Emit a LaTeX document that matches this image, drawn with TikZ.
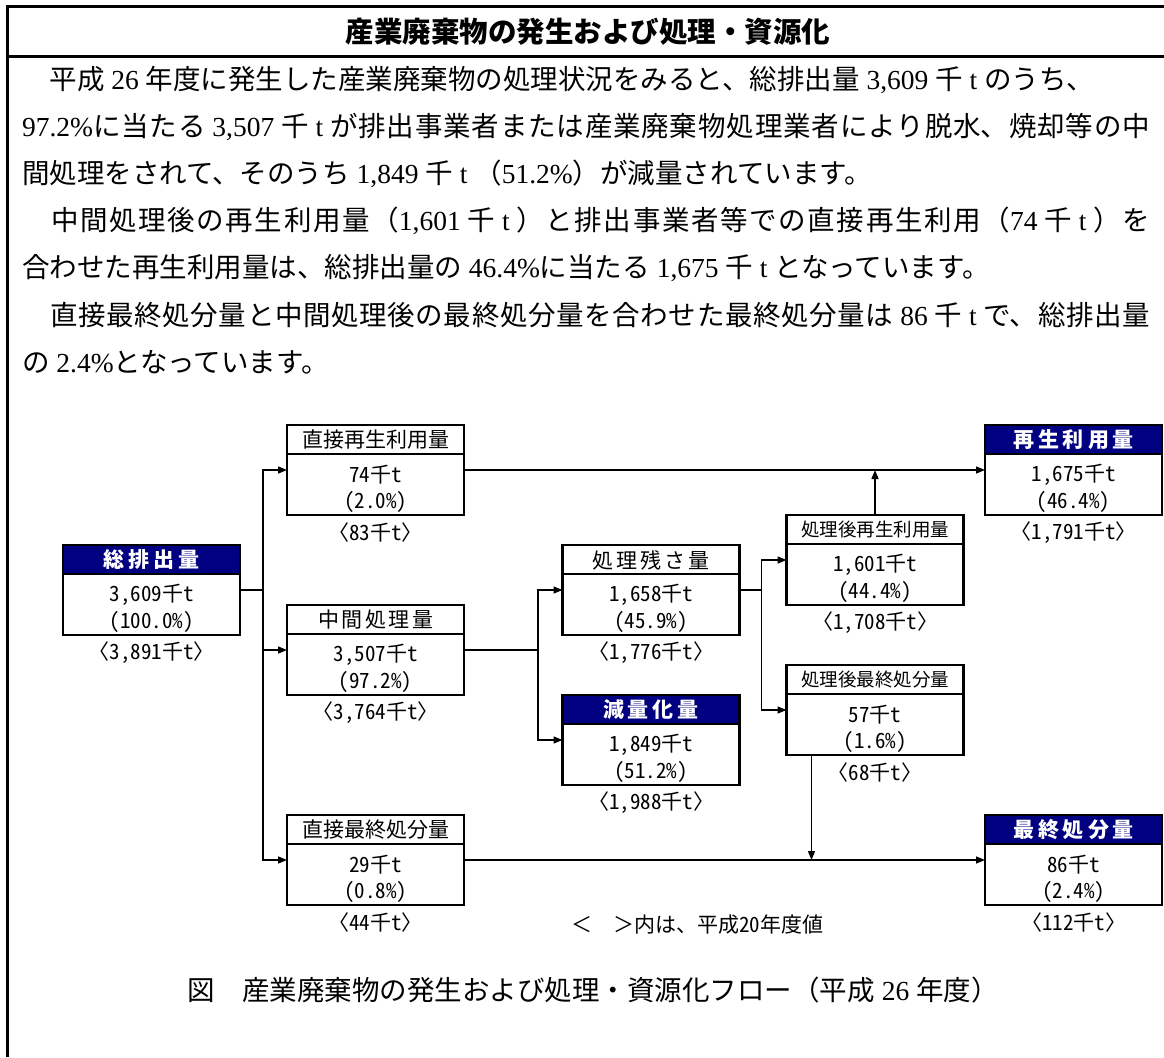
\documentclass[tikz,border=0pt]{standalone}
\usepackage{fontspec}
\usetikzlibrary{arrows.meta}
\newfontfamily\jp{Noto Sans CJK JP}
\newfontfamily\jphw{Noto Sans CJK JP}[RawFeature=+hwid]
\newfontfamily\latn{Liberation Serif}
\definecolor{navy}{HTML}{000080}
\XeTeXlinebreaklocale "ja"
\XeTeXlinebreakskip=0pt plus 1pt
\newcommand\ns[1]{\hspace{0.25em}{\latn #1}\hspace{0.25em}}
\newcommand\nb[1]{{\latn #1}}
\newcommand\bodyfont{\jp\fontsize{27.5}{30}\selectfont}
\newcommand\jtext[1]{\parindent=0pt\parfillskip=0pt\relax #1\par}
\newcommand\flowbox[8]{%
  \node[box] (#1) at (#2,#3) {};
  \filldraw[fill=#4, line width=2.2pt] (#1.north west) rectangle ([yshift=-29pt]#1.north east);
  \node[hfont] (#1h) at ([yshift=-15pt]#1.north) {#5};
  \node[dfont] (#1a) at ([yshift=-50pt]#1.north) {#6};
  \node[dfont] (#1b) at ([yshift=-77pt]#1.north) {#7};
  \node[dfont] (#1c) at ([yshift=-108pt]#1.north) {#8};
}
\begin{document}
\begin{tikzpicture}[x=1pt,y=-1pt,
  every node/.style={inner sep=0pt, outer sep=0pt},
  box/.style={draw, line width=2.2pt, minimum width=177pt, minimum height=90pt},
  dfont/.style={font=\jphw\fontsize{21}{24}\selectfont},
  hfont/.style={font=\jphw\fontsize{21}{24}\selectfont},
  body/.style={anchor=west, font=\bodyfont},
  jline/.style={anchor=west, font=\bodyfont, text width=1128pt, align=justify},
  ln/.style={line width=1.4pt},
  arr/.style={line width=1.4pt, -{Triangle[length=9pt,width=7pt]}},
  frame/.style={line width=3pt}
]
\useasboundingbox (0,0) rectangle (1164,1057);
% frame
\draw[frame] (1164,7) -- (7,7) -- (7,1057);
\draw[frame] (7,57) -- (1164,57);
\node[font=\jp\bfseries\fontsize{28.5}{31}\selectfont] (title) at (588,32) {産業廃棄物の発生および処理・資源化};
% body text
\node[body] (t1) at (22,80) {　平成\ns{26}年度に発生した産業廃棄物の処理状況をみると、総排出量\ns{3,609}千\ns{t}のうち、};
\node[jline] (t2) at (22,127) {\jtext{\nb{97.2\%}に当たる\ns{3,507}千\ns{t}が排出事業者または産業廃棄物処理業者により脱水、焼却等の中}};
\node[body] (t3) at (22,174) {間処理をされて、そのうち\ns{1,849}千\ns{t}（\nb{51.2\%}）が減量されています。};
\node[jline] (t4) at (22,221) {\jtext{　中間処理後の再生利用量（\nb{1,601}\hspace{0.25em}千\ns{t}）と排出事業者等での直接再生利用（\nb{74}\hspace{0.25em}千\ns{t}）を}};
\node[body] (t5) at (22,268) {合わせた再生利用量は、総排出量の\hspace{0.25em}\nb{46.4\%}に当たる\ns{1,675}千\ns{t}となっています。};
\node[jline] (t6) at (22,315) {\jtext{　直接最終処分量と中間処理後の最終処分量を合わせた最終処分量は\ns{86}千\ns{t}で、総排出量}};
\node[body] (t7) at (22,362) {の\hspace{0.25em}\nb{2.4\%}となっています。};
% boxes
\flowbox{S}{151.5}{590}{navy}{\color{white}\bfseries 総\kern4pt 排\kern4pt 出\kern4pt 量}{3,609千t}{(100.0\%)}{〈3,891千t〉}
\flowbox{A}{375.5}{470}{white}{直接再生利用量}{74千t}{(2.0\%)}{〈83千t〉}
\flowbox{B}{375.5}{650}{white}{中\kern2.5pt 間\kern2.5pt 処\kern2.5pt 理\kern2.5pt 量}{3,507千t}{(97.2\%)}{〈3,764千t〉}
\flowbox{D}{375.5}{860}{white}{直接最終処分量}{29千t}{(0.8\%)}{〈44千t〉}
\flowbox{P}{651}{590}{white}{処\kern3pt 理\kern3pt 残\kern3pt さ\kern3pt 量}{1,658千t}{(45.9\%)}{〈1,776千t〉}
\flowbox{G}{651}{740}{navy}{\color{white}\bfseries 減\kern4pt 量\kern4pt 化\kern4pt 量}{1,849千t}{(51.2\%)}{〈1,988千t〉}
\flowbox{Q}{875}{560}{white}{\fontsize{18.5}{20}\selectfont 処理後再生利用量}{1,601千t}{(44.4\%)}{〈1,708千t〉}
\flowbox{L}{875}{710}{white}{\fontsize{18.5}{20}\selectfont 処理後最終処分量}{57千t}{(1.6\%)}{〈68千t〉}
\flowbox{R}{1073.5}{470}{navy}{\color{white}\bfseries 再\kern4pt 生\kern4pt 利\kern4pt 用\kern4pt 量}{1,675千t}{(46.4\%)}{〈1,791千t〉}
\flowbox{F}{1073.5}{860}{navy}{\color{white}\bfseries 最\kern4pt 終\kern4pt 処\kern4pt 分\kern4pt 量}{86千t}{(2.4\%)}{〈112千t〉}
% connectors
\coordinate (j1) at ([xshift=23pt]S.east);
\draw[ln] (S.east) -- (j1);
\draw[arr] (j1) |- (A.west);
\draw[arr] (j1) |- (B.west);
\draw[arr] (j1) |- (D.west);
\coordinate (j2) at ([xshift=74pt]B.east);
\draw[ln] (B.east) -- (j2);
\draw[arr] (j2) |- (P.west);
\draw[arr] (j2) |- (G.west);
\coordinate (j3) at ([xshift=22pt]P.east);
\draw[ln] (P.east) -- (j3);
\draw[arr] (j3) |- (Q.west);
\draw[arr] (j3) |- (L.west);
\draw[arr] (A.east) -- (R.west);
\draw[arr] (Q.north) -- (Q.north |- A.east);
\draw[arr] (D.east) -- (F.west);
\coordinate (l1) at ([xshift=25pt]L.south west);
\draw[arr] (l1) -- (l1 |- D.east);
% notes
\node[font=\jp\fontsize{21}{24}\selectfont] (note) at (697,925) {＜　＞内は、平成{\jphw 20}年度値};
\node[font=\bodyfont] (cap) at (593,990) {図　産業廃棄物の発生および処理・資源化フロー（平成\ns{26}年度）};
\end{tikzpicture}
\end{document}
